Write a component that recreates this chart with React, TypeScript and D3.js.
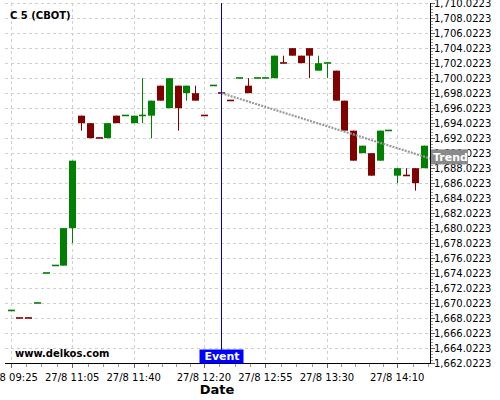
import React from "react";
import * as d3 from "d3";

// ---- data ----
const title = "C 5 (CBOT)";
const opens = [1669,1668,1668,1670,1674,1675,1675,1680,1695,1694,1692,1692,1695,1695,1694,1695,1695,1699,1696,1699,1698,1698,1695,1699,1698,1697,1700,1699,1700,1700,1700,1702,1704,1703,1704,1701,1702,1701,1697,1693,1690,1690,1689,1693,1687,1687,1688,1688];
const highs = [1669,1668,1668,1670,1674,1675,1680,1689,1695,1694,1692,1694,1695,1695,1695,1700,1697,1699,1700,1699,1699,1699,1695,1699,1698,1697,1700,1700,1700,1700,1703,1703,1704,1703,1704,1703,1702,1701,1697,1693,1691,1690,1693,1693,1688,1688,1688,1691];
const lows = [1669,1668,1668,1670,1674,1675,1675,1678,1693,1692,1692,1692,1694,1695,1694,1694,1692,1697,1696,1693,1697,1697,1695,1699,1698,1697,1700,1698,1700,1700,1700,1702,1703,1702,1700,1701,1700,1697,1693,1689,1690,1687,1689,1693,1686,1687,1685,1688];
const closes = [1669,1668,1668,1670,1674,1675,1680,1689,1694,1692,1692,1694,1694,1695,1695,1695,1697,1697,1700,1696,1699,1697,1695,1699,1698,1697,1700,1698,1700,1700,1703,1702,1703,1702,1703,1702,1702,1697,1693,1689,1691,1687,1693,1693,1688,1687,1686,1691];
const rising = [1,0,0,1,1,1,1,1,0,0,0,1,0,1,1,1,1,0,1,0,1,0,0,1,0,0,1,0,1,1,1,0,0,0,0,1,1,0,0,0,1,0,1,1,1,0,0,1];
const tickIndices = [0, 7, 14, 22, 29, 36, 44];
const tickLabels = ["27/8 09:25","27/8 11:05","27/8 11:40","27/8 12:20","27/8 12:55","27/8 13:30","27/8 14:10"];
const yMin = 1662.0223;
const yMax = 1710.0223;
const yStep = 2;
const eventIndex = 24;
const trendStart = [24, 1698];
const trendEnd = [47.74, 1689.3];

export default function App() {
  const W = 500, H = 400;
  const L = 5, R = 430, T = 3, B = 363;
  const x = d3.scaleLinear().domain([-0.65, 47.74]).range([L, R]);
  const y = d3.scaleLinear().domain([yMin, yMax]).range([B, T]);
  const yTicks = d3.range(0, Math.round((yMax - yMin) / yStep) + 1).map((k) => yMin + k * yStep);
  const yMinor: number[] = [];
  yTicks.forEach((t, k) => {
    if (k < yTicks.length - 1) for (let j = 1; j < 5; j++) yMinor.push(t + (j * yStep) / 5);
  });
  const fmt = d3.format(",.4f");
  const green = "#008000", red = "#800000";
  const font = "DejaVu Sans, Verdana, sans-serif";

  // minor x ticks
  const xMajorPx = tickIndices.map((i) => x(i));
  const xMinor: number[] = [];
  for (let k = 0; k < xMajorPx.length - 1; k++) {
    const a = xMajorPx[k], b = xMajorPx[k + 1];
    const n = Math.max(1, Math.round((b - a) / 15));
    for (let j = 1; j < n; j++) xMinor.push(a + ((b - a) * j) / n);
  }
  {
    const last = xMajorPx[xMajorPx.length - 1];
    for (let p = last + 15.5; p <= R; p += 15.5) xMinor.push(p);
  }

  const ex = Math.round(x(eventIndex)) + 0.5;
  const trendY = y(trendEnd[1]);
  const bw = 7;

  return (
    <svg width={W} height={H} style={{ position: "absolute", left: 0, top: 0, background: "#fff" }} fontFamily={font}>
      <rect x={0} y={0} width={W} height={H} fill="#fff" />
      {/* grid */}
      {yTicks.map((t, k) => (
        <line key={"gy" + k} x1={L} x2={R} y1={Math.round(y(t)) + 0.5} y2={Math.round(y(t)) + 0.5} stroke="#cfcfcf" strokeDasharray="3,3" />
      ))}
      {xMajorPx.map((p, k) => (
        <line key={"gx" + k} x1={Math.round(p) + 0.5} x2={Math.round(p) + 0.5} y1={T} y2={B} stroke="#cfcfcf" strokeDasharray="3,3" />
      ))}
      {/* candles */}
      {opens.map((o, i) => {
        const c = closes[i];
        const col = rising[i] ? green : red;
        const cx = x(i);
        const top = y(Math.max(o, c));
        const bot = y(Math.min(o, c));
        const h = bot - top;
        return (
          <g key={"c" + i}>
            {highs[i] !== lows[i] && (
              <line x1={Math.round(cx) + 0.5} x2={Math.round(cx) + 0.5} y1={y(highs[i])} y2={y(lows[i])} stroke={col} strokeWidth={1} />
            )}
            {h < 1 ? (
              <rect x={Math.round(cx) - 3} y={top - 1} width={bw} height={1.6} fill={col} />
            ) : (
              <rect x={Math.round(cx) - 3} y={top} width={bw} height={h} fill={col} />
            )}
          </g>
        );
      })}
      {/* trend line */}
      <line x1={x(trendStart[0])} y1={y(trendStart[1])} x2={x(trendEnd[0])} y2={y(trendEnd[1])} stroke="#9a9a9a" strokeWidth={2.2} strokeDasharray="2,1.2" />
      {/* event line */}
      <line x1={ex} x2={ex} y1={T} y2={B} stroke="#0000cc" strokeWidth={1} />
      {/* bottom axis */}
      <line x1={L} x2={R} y1={B + 0.5} y2={B + 0.5} stroke="#000" />
      {xMinor.map((p, k) => (
        <line key={"xm" + k} x1={Math.round(p) + 0.5} x2={Math.round(p) + 0.5} y1={B + 1} y2={B + 4} stroke="#999" />
      ))}
      {xMajorPx.map((p, k) => (
        <line key={"xt" + k} x1={Math.round(p) + 0.5} x2={Math.round(p) + 0.5} y1={B + 1} y2={B + 5} stroke="#666" />
      ))}
      {tickLabels.map((lab, k) => (
        <text key={"xl" + k} x={xMajorPx[k]} y={381} textAnchor="middle" fontSize={10} fill="#000">{lab}</text>
      ))}
      <text x={217} y={394} textAnchor="middle" fontSize={13} fontWeight="bold" fill="#000">Date</text>
      {/* right axis */}
      <line x1={R + 0.5} x2={R + 0.5} y1={T} y2={B + 1} stroke="#000" />
      {yMinor.map((t, k) => (
        <line key={"ym" + k} x1={R + 1} x2={R + 3} y1={Math.round(y(t)) + 0.5} y2={Math.round(y(t)) + 0.5} stroke="#999" />
      ))}
      {yTicks.map((t, k) => (
        <g key={"yt" + k}>
          <line x1={R + 1} x2={R + 5} y1={Math.round(y(t)) + 0.5} y2={Math.round(y(t)) + 0.5} stroke="#666" />
          <text x={R + 4} y={y(t)} dy="0.35em" fontSize={10} fill="#000">{fmt(t)}</text>
        </g>
      ))}
      {/* trend label */}
      <rect x={R + 1} y={trendY - 9} width={37} height={15} fill="#8a8a8a" />
      <text x={R + 3} y={trendY - 1.5} dy="0.35em" fontSize={11} fontWeight="bold" fill="#fff">Trend</text>
      {/* event label */}
      <rect x={ex - 22} y={B - 13.5} width={44} height={14} fill="#0000ff" />
      <text x={ex + 0.5} y={B - 6.5} dy="0.35em" textAnchor="middle" fontSize={11} fontWeight="bold" fill="#fff">Event</text>
      {/* texts */}
      <text x={10} y={19} fontSize={10} fontWeight="bold" fill="#000">{title}</text>
      <text x={15} y={357} fontSize={10} fontWeight="bold" fill="#000">www.delkos.com</text>
    </svg>
  );
}
